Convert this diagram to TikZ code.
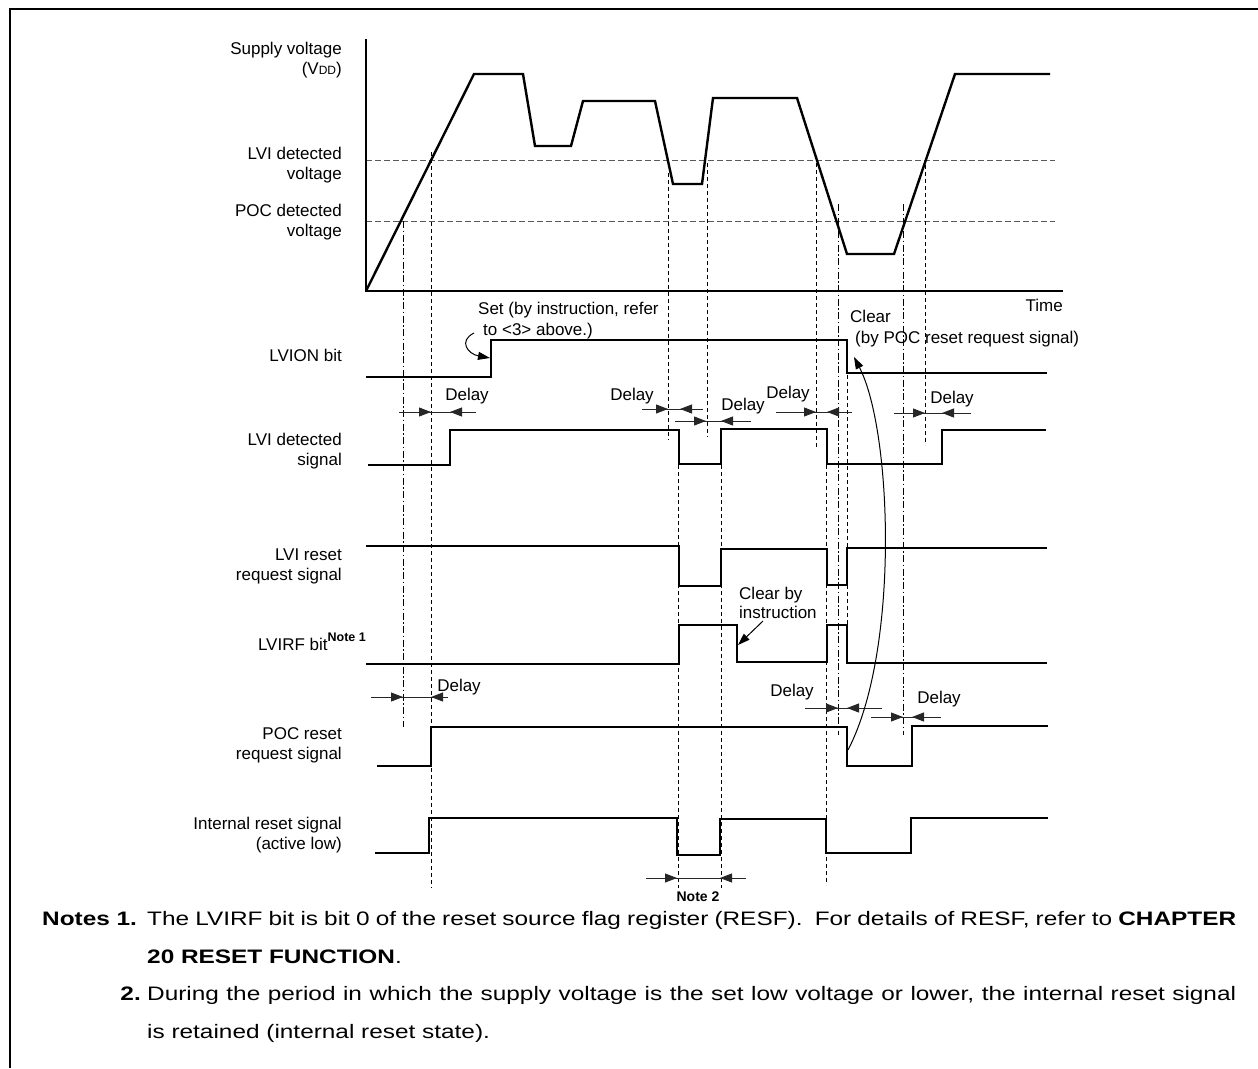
\documentclass[tikz,border=0pt]{standalone}
\usepackage{fontspec}
\setmainfont{Liberation Sans}
\newfontfamily\notefont[FakeStretch=1.25]{Liberation Sans}
\usetikzlibrary{arrows.meta}

\newcommand\lblsize{\fontsize{17}{20}\selectfont}
\newcommand\notesize{\notefont\fontsize{19.5}{22}\selectfont}

\tikzset{
  sig/.style={line width=2.4pt, line join=miter},
  axis/.style={line width=2pt},
  thresh/.style={line width=1pt, black!65, dash pattern=on 5.5pt off 3.5pt},
  guide/.style={line width=0.9pt, dash pattern=on 4pt off 3pt},
  guidedot/.style={line width=0.9pt, dash pattern=on 7pt off 2.5pt on 1.5pt off 2.5pt},
  dimline/.style={line width=0.9pt, black!85},
  dimtip/.style={dimline, -{Triangle[length=12pt,width=9pt]}},
  callout/.style={line width=1pt, -{Triangle[length=12pt,width=8pt]}},
  lbl/.style={font=\lblsize, align=right, anchor=east, inner sep=0pt},
  txt/.style={font=\lblsize, anchor=base west, inner sep=0pt},
}

\begin{document}
\begin{tikzpicture}[x=1pt, y=-1pt]
  \useasboundingbox (0,0) rectangle (1258,1068);
  % frame
  \draw[line width=2.5pt] (10,1068) -- (10,9) -- (1258,9);

  % signal names
  \node[lbl] (nvdd)  at (342,60)  {Supply voltage\\(V{\fontsize{12}{12}\selectfont DD})};
  \node[lbl] (nlvv)  at (342,165) {LVI detected\\voltage};
  \node[lbl] (npocv) at (342,222) {POC detected\\voltage};
  \node[lbl] (nlvion) at (342,355) {LVION bit};
  \node[lbl] (nlvid) at (342,451) {LVI detected\\signal};
  \node[lbl] (nlvir) at (342,566) {LVI reset\\request signal};
  \node[font=\lblsize, anchor=base east, inner sep=0pt] (nlvirf) at (366,650)
       {LVIRF bit\raisebox{9pt}{\bfseries\fontsize{12.5}{13}\selectfont Note 1}};
  \node[lbl] (npocr) at (342,745) {POC reset\\request signal};
  \node[lbl] (nint)  at (342,835) {Internal reset signal\\(active low)};

  % supply voltage graph
  \draw[thresh] (366,160) -- (1055,160);
  \draw[thresh] (366,221) -- (1055,221);
  \draw[axis] (366,39) -- (366,291) -- (1063,291);
  \node[font=\lblsize, anchor=base east, inner sep=0pt] (ntime) at (1063,311) {Time};
  \draw[sig] (366,291) -- (474,74) -- (523,74) -- (535,146) -- (571,146) -- (583,101)
       -- (655,101) -- (673,184) -- (702,184) -- (713,98) -- (797,98) -- (847,254)
       -- (894,254) -- (955,74) -- (1050,74);

  % guide lines
  \foreach \gx/\ga/\gb in {431/152/888, 668/173/440, 707/163/437, 816/163/447,
                           925/165/445, 678/465/888, 721/465/888, 826/465/885, 847/375/625}
    \draw[guide] (\gx,\ga) -- (\gx,\gb);
  \foreach \gx/\ga/\gb in {403/221/727, 838/204/735, 903/204/735}
    \draw[guidedot] (\gx,\ga) -- (\gx,\gb);

  % waveforms
  \draw[sig] (366,377) -- (491,377) -- (491,340) -- (847,340) -- (847,373) -- (1047,373);
  \draw[sig] (368,465) -- (450,465) -- (450,430) -- (679,430) -- (679,464) -- (721,464)
       -- (721,429) -- (827,429) -- (827,464) -- (942,464) -- (942,430) -- (1046,430);
  \draw[sig] (366,546) -- (679,546) -- (679,586) -- (721,586) -- (721,549) -- (827,549)
       -- (827,585) -- (847,585) -- (847,548) -- (1047,548);
  \draw[sig] (366,664) -- (679,664) -- (679,625) -- (737,625) -- (737,662) -- (827,662)
       -- (827,625) -- (847,625) -- (847,663) -- (1047,663);
  \draw[sig] (377,766) -- (431,766) -- (431,727) -- (847,727) -- (847,766) -- (912,766)
       -- (912,726) -- (1048,726);
  \draw[sig] (375,853) -- (429,853) -- (429,818) -- (677,818) -- (677,855) -- (720,855)
       -- (720,819) -- (826,819) -- (826,853) -- (911,853) -- (911,818) -- (1048,818);

  % delay marks
  \foreach \xl/\xa/\xb/\xr/\yy in {399/431/450/476/412, 642/668/680/703/409,
        675/706/721/751/421, 776/816/827/852/412, 894/925/942/971/413,
        371/403/431/448/697, 805/838/847/882/708, 871/903/912/941/717,
        646/677/720/746/878} {
    \draw[dimline] (\xl,\yy) -- (\xr,\yy);
    \draw[dimtip] (\xl,\yy) -- (\xa,\yy);
    \draw[dimtip] (\xr,\yy) -- (\xb,\yy);
  }
  \foreach \i/\dx/\dy in {1/467/396, 2/632/396, 3/743/406, 4/788/394, 5/952/399,
                          6/459/687, 7/792/692, 8/939/699}
    \node[font=\lblsize, inner sep=0pt] (dly\i) at (\dx,\dy) {Delay};
  \node[font=\bfseries\fontsize{14}{16}\selectfont, inner sep=0pt] (nnote2) at (698,897) {Note 2};

  % callouts
  \node[txt] (nset1) at (478,314) {Set (by instruction, refer};
  \node[txt] (nset2) at (483,335) {to <3> above.)};
  \draw[callout] (474,333) .. controls (458,341) and (468,354) .. (490,358);
  \node[txt] (nclr1) at (850,322) {Clear};
  \node[txt] (nclr2) at (855,343) {(by POC reset request signal)};
  \draw[callout] (848,750) .. controls (900,650) and (892,430) .. (854,357);
  \node[txt] (ncbi1) at (739,599) {Clear by};
  \node[txt] (ncbi2) at (739,618) {instruction};
  \draw[callout] (763,621) -- (738,645);

  % notes
  \node[font=\notesize\bfseries, anchor=base west, inner sep=0pt] (nnotes) at (42,925) {Notes 1.};
  \node[font=\notesize, anchor=base west, inner sep=0pt] (nn1a) at (147,925)
       {\makebox[1089pt][s]{The LVIRF bit is bit 0 of the reset source flag register (RESF).\ \ For details of RESF, refer to \textbf{CHAPTER}}};
  \node[font=\notesize, anchor=base west, inner sep=0pt] (nn1b) at (147,963) {\textbf{20 RESET FUNCTION}.};
  \node[font=\notesize\bfseries, anchor=base east, inner sep=0pt] (nnum2) at (141,1000) {2.};
  \node[font=\notesize, anchor=base west, inner sep=0pt] (nn2a) at (147,1000)
       {\makebox[1089pt][s]{During the period in which the supply voltage is the set low voltage or lower, the internal reset signal}};
  \node[font=\notesize, anchor=base west, inner sep=0pt] (nn2b) at (147,1038) {is retained (internal reset state).};
\end{tikzpicture}
\end{document}
